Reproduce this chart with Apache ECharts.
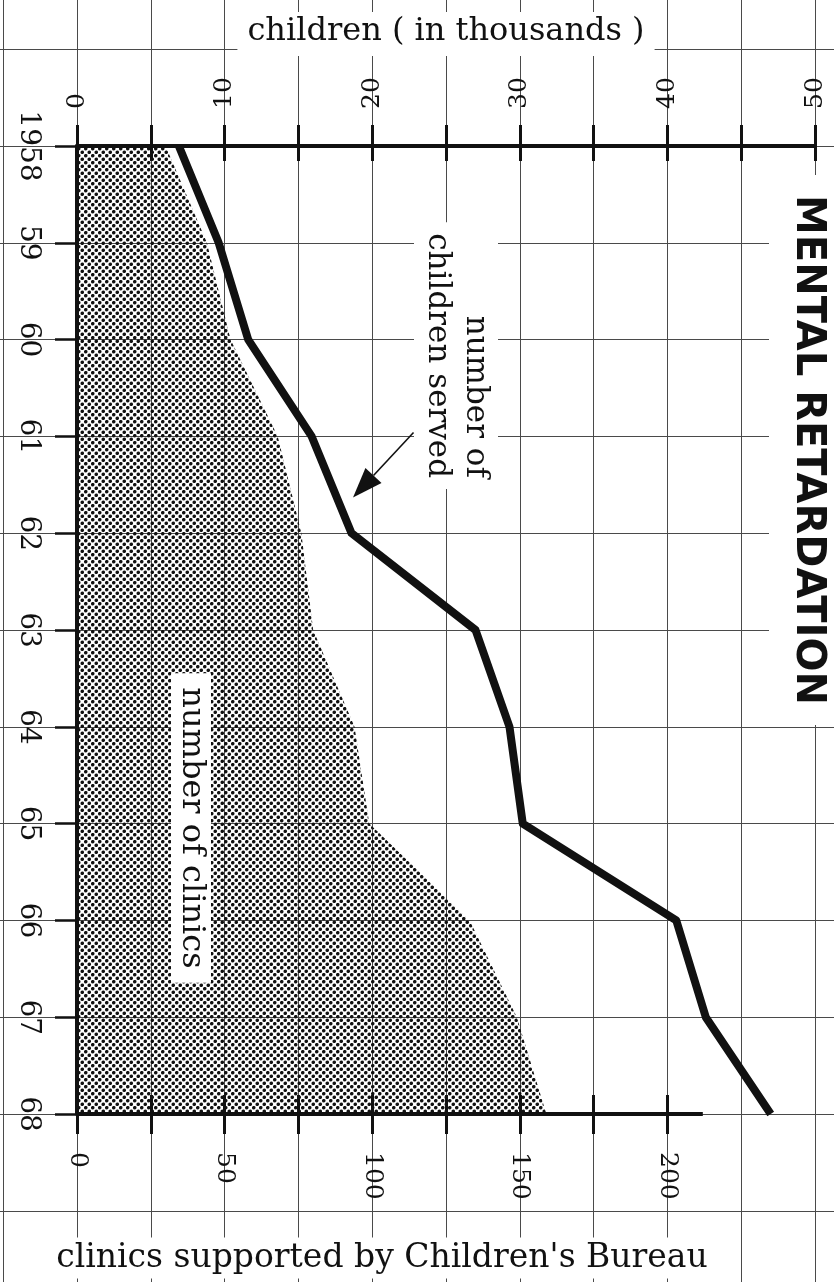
<!DOCTYPE html>
<html>
<head>
<meta charset="utf-8">
<title>Mental retardation</title>
<script src="https://cdn.jsdelivr.net/npm/echarts@6/dist/echarts.min.js"></script>
<style>
  html, body { margin: 0; background: #fff; }
  #chart { width: 834px; height: 1282px; }
</style>
</head>
<body>
<div id="chart"></div>
<script>
(() => {
  "use strict";
  // values
  const years = ["1958", "59", "60", "61", "62", "63", "64", "65", "66", "67", "68"];
  const childrenServed = [6.9, 9.6, 11.6, 15.9, 18.6, 27.0, 29.3, 30.2, 40.6, 42.6, 47.0]; // thousands
  const clinicsCount = [30, 44, 52, 68, 76, 80, 94, 99, 133, 149, 159];
  const childTicks = [0, 5, 10, 15, 20, 25, 30, 35, 40, 45, 50];
  const childLabels = [0, 10, 20, 30, 40, 50];
  const clinicTicks = [0, 25, 50, 75, 100, 125, 150, 175, 200];
  const clinicLabels = [0, 50, 100, 150, 200];

  const INK = "#111";
  const PAPER = "#4a4a4a";
  const SERIF = '"DejaVu Serif", serif';
  const G = { left: 77, top: 146, width: 738, height: 968 };
  const ux = G.width / 50;                   // px per thousand children
  const uy = G.height / (years.length - 1);  // px per year
  const px = v => G.left + v * ux;
  const py = i => G.top + i * uy;

  // halftone dots for the clinics area
  const dots = (() => {
    const c = document.createElement("canvas");
    c.width = 7; c.height = 7;
    const g = c.getContext("2d");
    g.fillStyle = "#111";
    [[1.75, 1.75], [5.25, 5.25]].forEach(([x, y]) => { g.beginPath(); g.arc(x, y, 1.8, 0, Math.PI * 2); g.fill(); });
    return c;
  })();

  const chart = echarts.init(document.getElementById("chart"), null, { renderer: "canvas" });

  const hidden = { axisLine: { show: false }, axisTick: { show: false }, axisLabel: { show: false } };
  const lbl = (rot, margin, size) => ({ rotate: rot, margin, color: INK, fontFamily: SERIF, fontSize: size });

  // arrow "number of children served" -> line, in data units
  const tail = [px(22.8), py(2.96)], tip = [px(18.7), py(3.63)];
  const dx = tip[0] - tail[0], dy = tip[1] - tail[1], len = Math.hypot(dx, dy);
  const ex = dx / len, ey = dy / len;
  const base = [tip[0] - ex * 30, tip[1] - ey * 30];
  const head = [tip, [base[0] - ey * 11, base[1] + ex * 11], [base[0] + ey * 11, base[1] - ex * 11]];

  chart.setOption({
    animation: false,
    backgroundColor: "#fff",
    grid: [
      { left: G.left, top: G.top, width: G.width, height: G.height, outerBoundsMode: "none" },
      // graph paper, same spacing, running past the plot
      { left: G.left - 10 * ux, top: G.top - 2 * uy, width: 70 * ux, height: 14 * uy, outerBoundsMode: "none" },
    ],
    xAxis: [
      {
        type: "value", gridIndex: 0, position: "top", min: 0, max: 50, interval: 5, z: 5,
        name: "children ( in thousands )", nameLocation: "middle", nameGap: 90,
        nameTextStyle: { color: INK, fontFamily: SERIF, fontSize: 32, backgroundColor: "#fff", padding: [4, 10, 8, 10] },
        axisLine: { show: true, lineStyle: { color: INK, width: 4 } },
        axisTick: { show: true, length: 21, customValues: childTicks, lineStyle: { color: INK, width: 3 } },
        axisLabel: { ...lbl(-90, 37, 25), customValues: childLabels },
        splitLine: { show: false },
      },
      {
        type: "value", gridIndex: 0, position: "bottom", min: 0, max: 250, interval: 25, z: 5,
        axisLine: { show: false },
        axisTick: { show: true, length: 20, customValues: clinicTicks, lineStyle: { color: INK, width: 3 } },
        axisLabel: { ...lbl(-90, 38, 25), customValues: clinicLabels },
        splitLine: { show: false },
      },
      // inner halves of the crossing ticks
      {
        type: "value", gridIndex: 0, position: "top", min: 0, max: 50, interval: 5, z: 5, ...hidden,
        axisTick: { show: true, inside: true, length: 15, customValues: childTicks, lineStyle: { color: INK, width: 3 } },
        splitLine: { show: false },
      },
      {
        type: "value", gridIndex: 0, position: "bottom", min: 0, max: 250, interval: 25, z: 5, ...hidden,
        axisTick: { show: true, inside: true, length: 19, customValues: clinicTicks, lineStyle: { color: INK, width: 3 } },
        splitLine: { show: false },
      },
      {
        type: "value", gridIndex: 1, min: -10, max: 60, interval: 5, ...hidden,
        splitLine: { show: true, lineStyle: { color: PAPER, width: 1 } },
      },
    ],
    yAxis: [
      {
        type: "category", gridIndex: 0, data: years, inverse: true, boundaryGap: false, z: 5,
        axisLine: { show: true, lineStyle: { color: INK, width: 4 } },
        axisTick: { show: true, length: 22, alignWithLabel: true, lineStyle: { color: INK, width: 2.5 } },
        axisLabel: lbl(-90, 35, 28),
        splitLine: { show: false },
      },
      {
        type: "value", gridIndex: 1, min: -2, max: 12, interval: 1, inverse: true, ...hidden,
        splitLine: { show: true, lineStyle: { color: PAPER, width: 1 } },
      },
    ],
    series: [
      {
        name: "number of clinics", type: "line", xAxisIndex: 1, yAxisIndex: 0, data: clinicsCount,
        symbol: "none", z: 2, lineStyle: { width: 0 },
        areaStyle: { color: { image: dots, repeat: "repeat" }, opacity: 1 },
        markLine: {
          silent: true, symbol: "none", label: { show: false },
          lineStyle: { color: INK, width: 4, type: "solid" },
          data: [[{ coord: [0, years[years.length - 1]] }, { coord: [212, years[years.length - 1]] }]],
        },
      },
      {
        name: "number of children served", type: "line", xAxisIndex: 0, yAxisIndex: 0, data: childrenServed,
        symbol: "none", z: 4, lineStyle: { color: INK, width: 8, join: "round" },
      },
    ],
    graphic: [
      {
        type: "text", z: 10, x: 807, y: 450, rotation: -Math.PI / 2,
        style: { text: "MENTAL RETARDATION", fill: INK, font: 'bold 40px "DejaVu Sans"', align: "center", verticalAlign: "middle", backgroundColor: "#fff", padding: [18, 20] },
      },
      {
        type: "text", z: 10, x: 456, y: 489, rotation: -Math.PI / 2,
        style: { text: "number of\nchildren served", fill: INK, font: '31px "DejaVu Serif"', lineHeight: 38, align: "right", verticalAlign: "middle", backgroundColor: "#fff", padding: [4, 11] },
      },
      {
        type: "text", z: 10, x: 191, y: 828, rotation: -Math.PI / 2,
        style: { text: "number of clinics", fill: INK, font: '32px "DejaVu Serif"', lineHeight: 34, align: "center", verticalAlign: "middle", backgroundColor: "#fff", padding: [3, 14] },
      },
      {
        type: "text", z: 10, x: 382, y: 1258,
        style: { text: "clinics supported by Children's Bureau", fill: INK, font: '33px "DejaVu Serif"', align: "center", verticalAlign: "middle", backgroundColor: "#fff", padding: [4, 8] },
      },
      { type: "line", z: 10, shape: { x1: tail[0], y1: tail[1], x2: base[0], y2: base[1] }, style: { stroke: INK, lineWidth: 1.6 } },
      { type: "polygon", z: 10, shape: { points: head }, style: { fill: INK } },
    ],
  });
})();
</script>
</body>
</html>
